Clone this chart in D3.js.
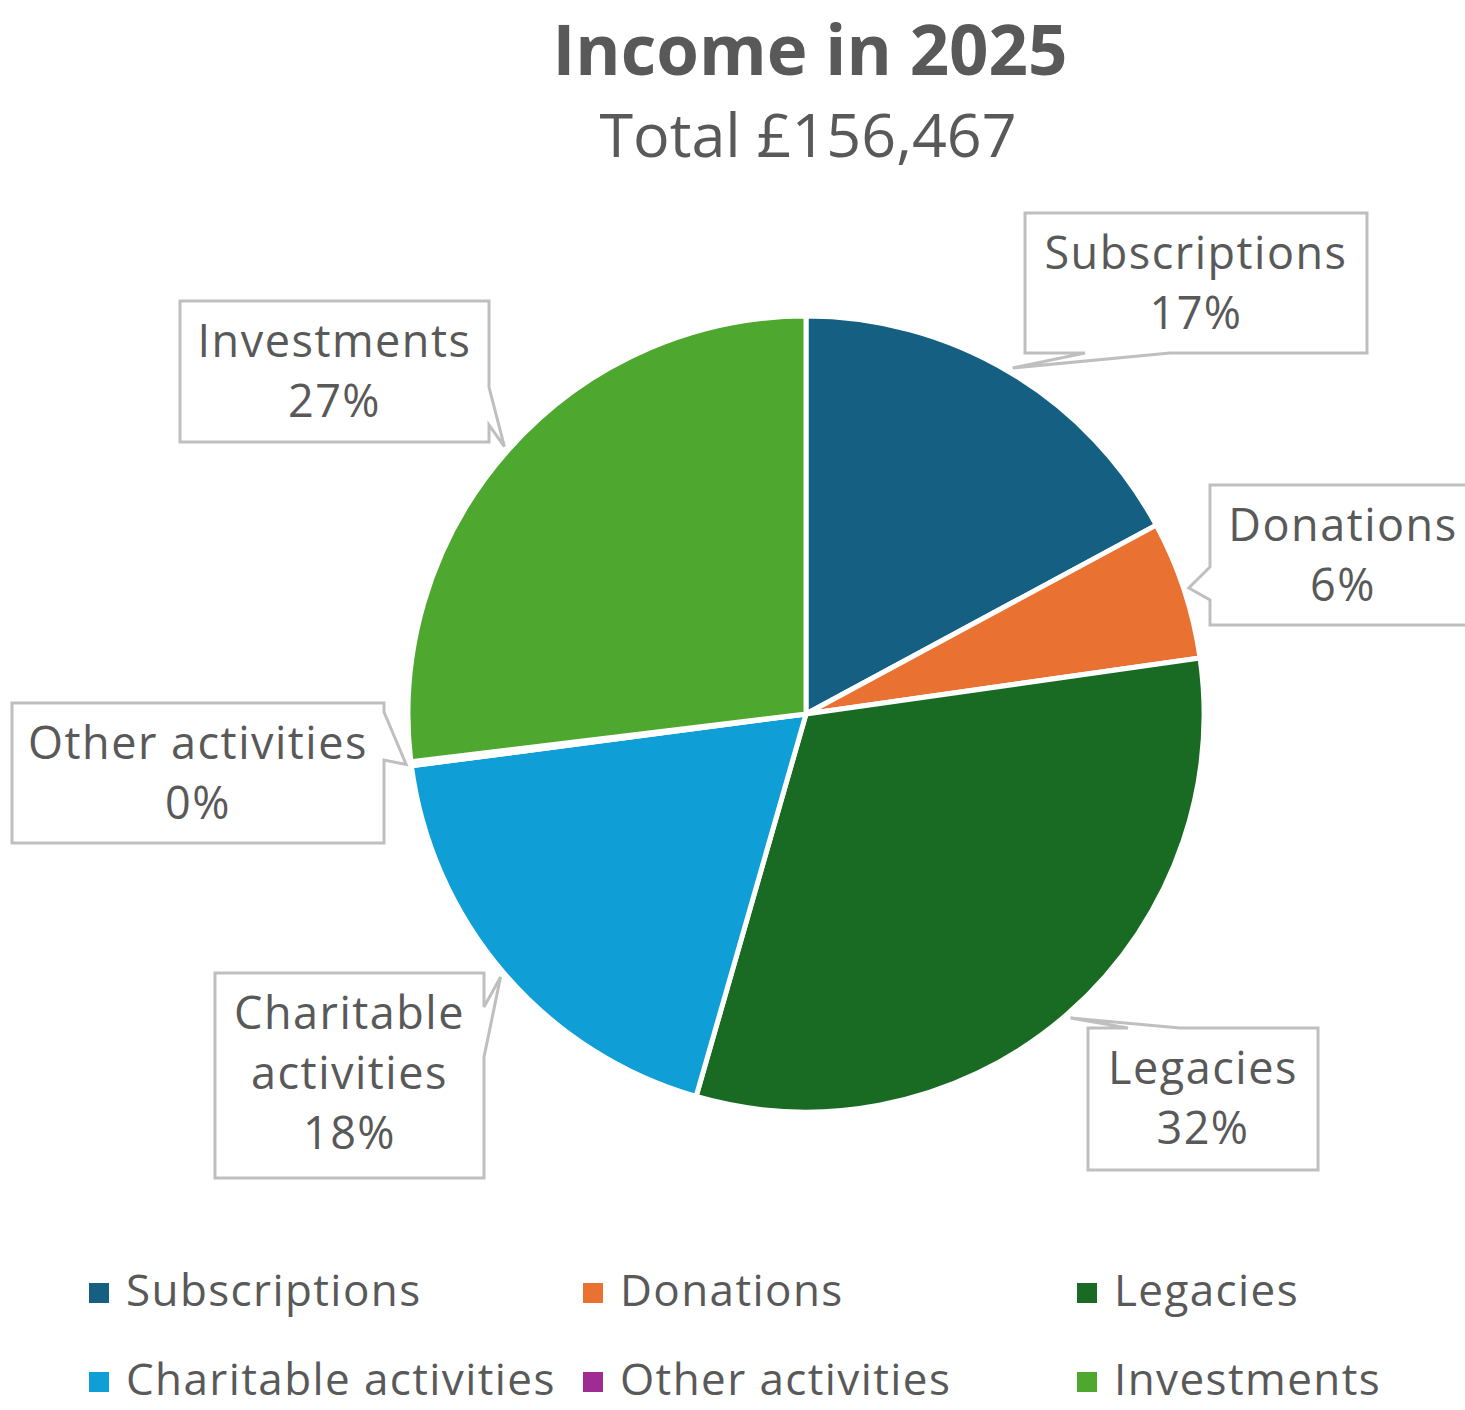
<!DOCTYPE html>
<html>
<head>
<meta charset="utf-8">
<script src="https://cdn.jsdelivr.net/npm/d3@7"></script>
<style>
  body { margin: 0; background: #fff; }
  svg { display: block; font-family: "Open Sans", sans-serif; }
</style>
</head>
<body>
<svg id="chart" width="1465" height="1410"></svg>
<script>
// data
const categories = ["Subscriptions", "Donations", "Legacies", "Charitable activities", "Other activities", "Investments"];
const values = [26800, 8800, 49600, 28900, 250, 42117];
const colors = ["#156082", "#E97132", "#196B24", "#0F9ED5", "#A02B93", "#4EA72E"];
const title = "Income in 2025";
const subtitle = "Total £156,467";

// callout boxes (layout only)
const callouts = {
  "Subscriptions": { box: [1025, 213, 342, 140], side: "bottom", base: [1085, 1170], lines: ["Subscriptions"] },
  "Donations": { box: [1210, 485, 266, 140], side: "left", base: [567, 600], lines: ["Donations"] },
  "Legacies": { box: [1088, 1028, 230, 142], side: "top", base: [1128, 1180], lines: ["Legacies"] },
  "Charitable activities": { box: [215, 973, 269, 205], side: "right", base: [1007, 1057], lines: ["Charitable", "activities"] },
  "Other activities": { box: [12, 703, 372, 140], side: "right", base: [712, 760], lines: ["Other activities"] },
  "Investments": { box: [180, 301, 309, 141], side: "right", base: [387, 425], lines: ["Investments"] },
};

const cx = 806, cy = 714, radius = 398;
const textColor = "#595959";

const chart = d3.select("#chart");
chart.selectAll("*").remove();

chart
  .append("text")
  .attr("x", 810)
  .attr("y", 75)
  .attr("text-anchor", "middle")
  .style("font-size", "69px")
  .style("font-weight", "bold")
  .style("fill", textColor)
  .text(title);

chart
  .append("text")
  .attr("x", 808)
  .attr("y", 157)
  .attr("text-anchor", "middle")
  .style("font-size", "61px")
  .style("fill", textColor)
  .text(subtitle);

const data = categories.map((c, i) => ({ name: c, value: values[i], color: colors[i] }));
const total = d3.sum(values);

const pie = d3.pie().sort(null).value((d) => d.value);
const arcs = pie(data);
const arc = d3.arc().innerRadius(0).outerRadius(radius);
const tipArc = d3.arc().innerRadius(radius + 5).outerRadius(radius + 5);

const g = chart.append("g").attr("transform", `translate(${cx}, ${cy})`);

g.selectAll("path")
  .data(arcs)
  .enter()
  .append("path")
  .attr("d", arc)
  .style("fill", (d) => d.data.color)
  .style("stroke", "#fff")
  .style("stroke-width", 5)
  .style("stroke-linejoin", "round");

// callouts
function calloutPath(c, tip) {
  const [x, y, w, h] = c.box;
  const [a, b] = c.base;
  const pts = [[x, y]];
  if (c.side === "top") pts.push([a, y], tip, [b, y]);
  pts.push([x + w, y]);
  if (c.side === "right") pts.push([x + w, a], tip, [x + w, b]);
  pts.push([x + w, y + h]);
  if (c.side === "bottom") pts.push([b, y + h], tip, [a, y + h]);
  pts.push([x, y + h]);
  if (c.side === "left") pts.push([x, b], tip, [x, a]);
  return "M" + pts.map((p) => p.join(",")).join("L") + "Z";
}

const labels = chart.append("g");
arcs.forEach((d) => {
  const c = callouts[d.data.name];
  const t = tipArc.centroid(d);
  const tip = [cx + t[0], cy + t[1]];
  labels
    .append("path")
    .attr("d", calloutPath(c, tip))
    .style("fill", "#fff")
    .style("stroke", "#bfbfbf")
    .style("stroke-width", 3)
    .style("stroke-linejoin", "miter");

  const pct = Math.round((d.data.value / total) * 100) + "%";
  const lines = c.lines.concat([pct]);
  const [x, y, w] = c.box;
  lines.forEach((ln, i) => {
    labels
      .append("text")
      .attr("x", x + w / 2)
      .attr("y", y + 56 + i * 60)
      .attr("text-anchor", "middle")
      .style("font-size", "45px")
      .style("letter-spacing", "1.5px")
      .style("fill", textColor)
      .text(ln);
  });
});

// legend
const legendCols = [89, 583, 1077];
const legendRows = [1293, 1382];
const legend = chart.append("g");
data.forEach((d, i) => {
  const lx = legendCols[i % 3];
  const ly = legendRows[Math.floor(i / 3)];
  legend
    .append("rect")
    .attr("x", lx)
    .attr("y", ly - 10)
    .attr("width", 20)
    .attr("height", 20)
    .style("fill", d.color);
  legend
    .append("text")
    .attr("x", lx + 37)
    .attr("y", ly + 13)
    .style("font-size", "44px")
    .style("letter-spacing", "1.4px")
    .style("fill", textColor)
    .text(d.name);
});
</script>
</body>
</html>
